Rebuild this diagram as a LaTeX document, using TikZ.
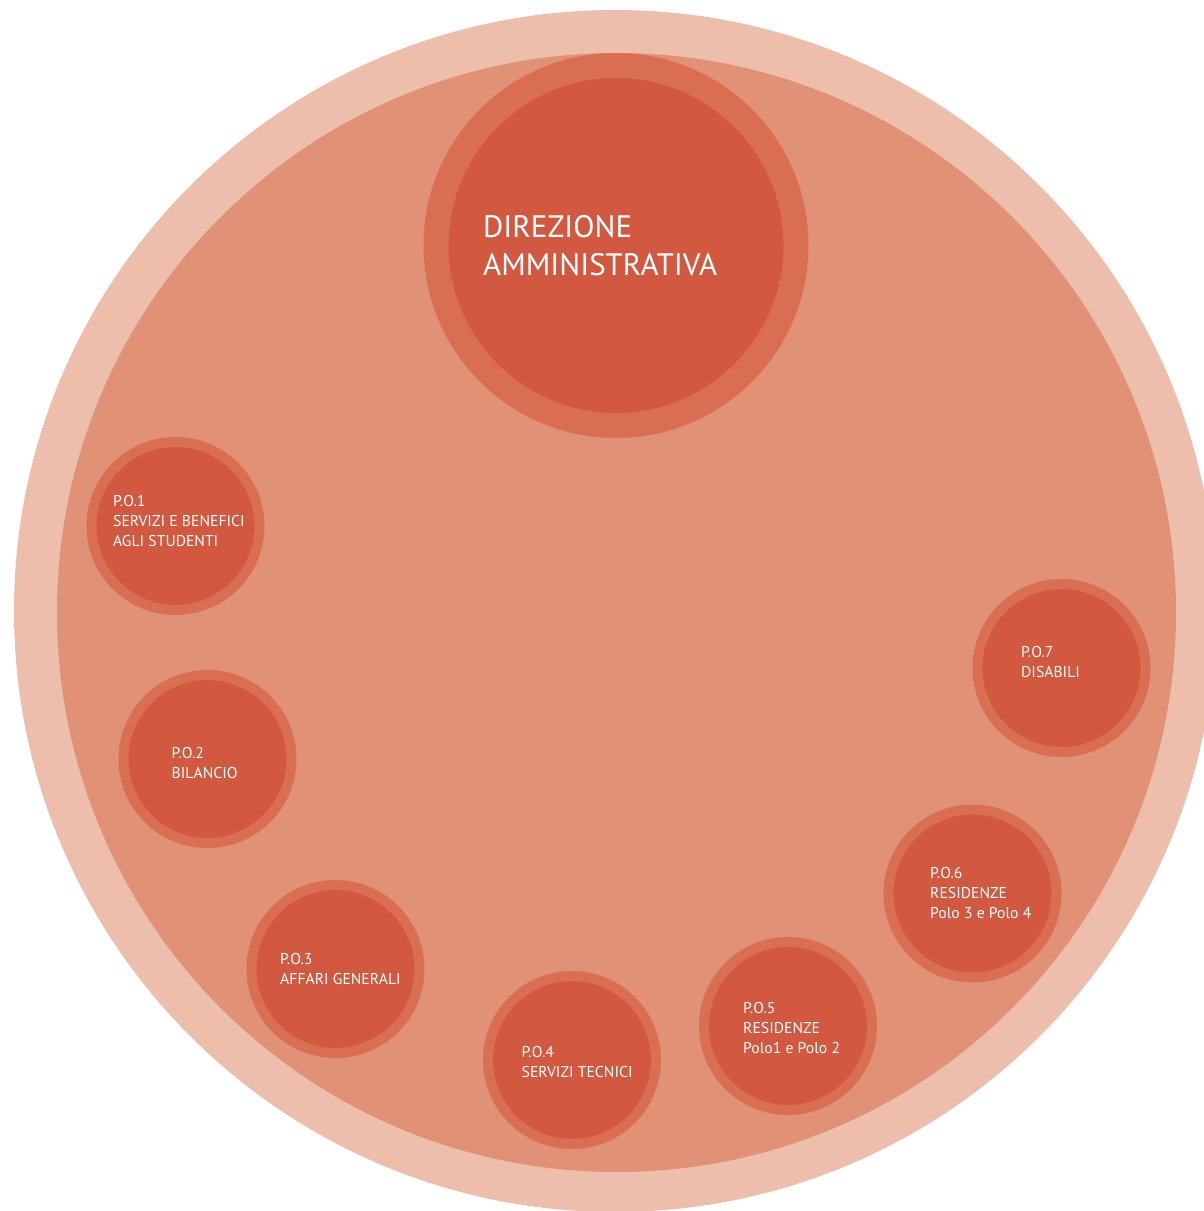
\documentclass[tikz,border=0pt]{standalone}
\usepackage{fontspec}
\newfontfamily\lblfont{PT Sans}
\definecolor{lightc}{HTML}{EDBEAC}
\definecolor{midc}{HTML}{E19175}
\definecolor{ringc}{HTML}{D96E52}
\definecolor{fillc}{HTML}{D25840}
\tikzset{
  po/.style={circle, fill=fillc, draw=ringc, line width=10pt, minimum size=168pt, inner sep=0pt},
  bigc/.style={circle, fill=fillc, draw=ringc, line width=25pt, minimum size=360pt, inner sep=0pt},
  smalltext/.style={anchor=north west, inner sep=0pt, align=left, text=white, font=\lblfont\fontsize{15.7}{20}\selectfont},
  bigtext/.style={anchor=north west, inner sep=0pt, align=left, text=white, font=\lblfont\fontsize{31}{38}\selectfont}
}
\begin{document}
\begin{tikzpicture}[x=1pt,y=-1pt]
\useasboundingbox (0,0) rectangle (1204,1211);
\clip (0,0) rectangle (1204,1211);
\fill[lightc] (615,611) circle[radius=601];
\fill[midc] (616.5,612.5) circle[radius=559.5];
\node[bigc] (da) at (616,245.5) {};
\node[bigtext] (dat) at (483,215) {DIREZIONE\\AMMINISTRATIVA};
\node[po] (p1) at (175.5,526) {};
\node[po] (p2) at (207.5,759) {};
\node[po] (p3) at (335.5,969) {};
\node[po] (p4) at (572,1060) {};
\node[po] (p5) at (788,1026) {};
\node[po] (p6) at (972.5,893.5) {};
\node[po] (p7) at (1061.5,668) {};
\node[smalltext] (t1) at (113,495) {P.O.1\\SERVIZI E BENEFICI\\AGLI STUDENTI};
\node[smalltext] (t2) at (171.5,746.7) {P.O.2\\BILANCIO};
\node[smalltext] (t3) at (280,953.5) {P.O.3\\AFFARI GENERALI};
\node[smalltext] (t4) at (521.5,1046) {P.O.4\\SERVIZI TECNICI};
\node[smalltext] (t5) at (743,1002.5) {P.O.5\\RESIDENZE\\Polo1 e Polo 2};
\node[smalltext] (t6) at (930,867.5) {P.O.6\\RESIDENZE\\Polo 3 e Polo 4};
\node[smalltext] (t7) at (1021,646.5) {P.O.7\\DISABILI};
\end{tikzpicture}
\end{document}
